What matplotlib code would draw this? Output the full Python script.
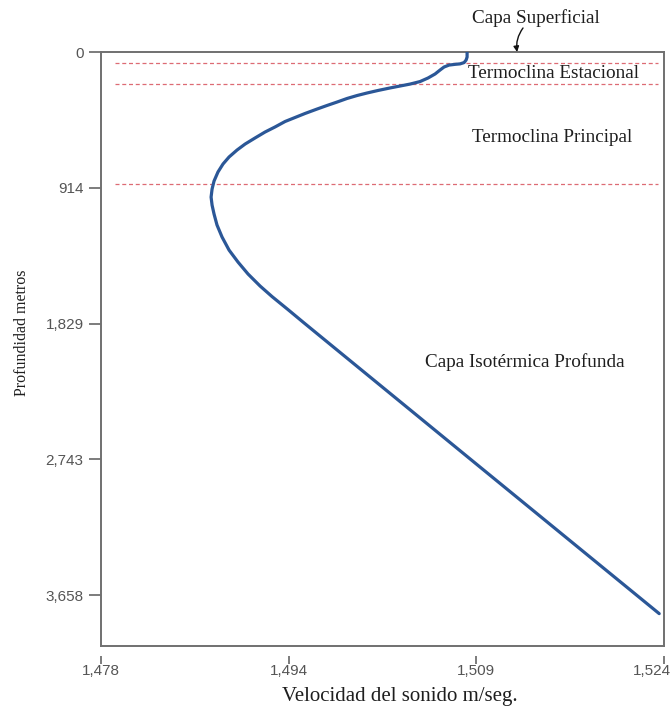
import matplotlib
matplotlib.use("Agg")
import matplotlib.pyplot as plt
import matplotlib.transforms as mtransforms

# ---- data ----
velocidad = [1508.01, 1508.01, 1507.93, 1507.77, 1507.44, 1507.04, 1506.55, 1506.14,
             1505.82, 1505.41, 1504.84, 1504.19, 1503.38, 1502.57, 1501.76, 1500.78,
             1499.89, 1499.08, 1498.26, 1497.45, 1496.64, 1495.83, 1494.85, 1494.04,
             1493.23, 1492.41, 1491.60, 1490.79, 1489.98, 1489.33, 1488.68, 1488.19,
             1487.78, 1487.46, 1487.30, 1487.22, 1487.30, 1487.46, 1487.70, 1488.11,
             1488.68, 1489.41, 1490.22, 1491.20, 1492.17, 1493.47, 1494.69, 1495.91,
             1508.50, 1523.61]
profundidad = [0, 34, 54, 71, 80, 83, 88, 101,
               121, 148, 175, 199, 216, 229, 242, 259,
               276, 293, 313, 337, 360, 384, 414, 441,
               468, 505, 539, 579, 620, 660, 707, 754,
               808, 869, 923, 977, 1031, 1091, 1165, 1246,
               1334, 1415, 1495, 1576, 1647, 1735, 1819, 1902,
               2757, 3782]

x_ticks = [1478.28, 1493.52, 1508.76, 1524.00]
x_tick_labels = ["1,478", "1,494", "1,509", "1,524"]
y_ticks = [0, 914.4, 1828.8, 2743.2, 3657.6]
y_tick_labels = ["0", "914", "1,829", "2,743", "3,658"]

capas_prof = [74, 215, 889]   # dashed layer limits (m)

capas_texto = ["Termoclina Estacional", "Termoclina Principal", "Capa Isotérmica Profunda"]
capas_texto_pos = [(1515.0, 145), (1514.9, 575), (1512.7, 2090)]

superficie_texto = "Capa Superficial"
superficie_vel = 1512.07

SERIF = "Liberation Serif"
SANS = "Liberation Sans"
TXT = "#1e1e1e"

fig = plt.figure(figsize=(6.72, 7.08), dpi=100)
ax = fig.add_axes([101/672, 1 - 646/708, 563/672, 594/708])

ax.plot(velocidad, profundidad, color="#2b5797", lw=2.3,
        solid_joinstyle="round", solid_capstyle="round", zorder=3)

for d in capas_prof:
    ax.axhline(d, xmin=0.025, xmax=0.989, color="#dd6b74", lw=0.9,
               dashes=(3.2, 2.2), zorder=2)

ax.set_xlim(x_ticks[0], x_ticks[-1])
ax.set_ylim(4000, 0)

ax.set_xticks(x_ticks)
ax.set_xticklabels(x_tick_labels)
ax.set_yticks(y_ticks)
ax.set_yticklabels(y_tick_labels)
ax.tick_params(axis="y", direction="out", length=8.5, width=1.2, color="#666666",
               labelcolor="#555555", labelsize=11, pad=4)
ax.tick_params(axis="x", length=0, labelcolor="#555555", labelsize=11, pad=13)
for lab in ax.get_xticklabels() + ax.get_yticklabels():
    lab.set_fontfamily(SANS)
last = ax.get_xticklabels()[-1]
last.set_transform(last.get_transform() +
                   mtransforms.ScaledTranslation(-12/100, 0, fig.dpi_scale_trans))

# detached x tick marks
ax.vlines(x_ticks, -0.0303, -0.0168, transform=ax.get_xaxis_transform(),
          colors="#666666", lw=1.2, clip_on=False)

for s in ax.spines.values():
    s.set_color("#707070")
    s.set_linewidth(1.4)

for txt, (xv, yv) in zip(capas_texto, capas_texto_pos):
    ax.text(xv, yv, txt, family=SERIF, fontsize=13.8, ha="center", va="center",
            color=TXT)

# Capa Superficial label with arrow
fig.text(536/672, 1 - 18/708, superficie_texto, family=SERIF, fontsize=13.8,
         ha="center", va="center", color=TXT)
ax.annotate("", xy=(superficie_vel, 0), xycoords="data",
            xytext=(523/672, 1 - 28/708), textcoords="figure fraction",
            arrowprops=dict(arrowstyle="-|>", color="#111111", lw=1.0,
                            mutation_scale=8, shrinkA=0, shrinkB=0,
                            connectionstyle="arc3,rad=0.2"),
            annotation_clip=False)

fig.text(22/672, 1 - 333/708, "Profundidad metros", family=SERIF, fontsize=11.5,
         rotation=90, ha="center", va="center", color=TXT)
fig.text(400/672, 1 - 697/708, "Velocidad del sonido m/seg.", family=SERIF,
         fontsize=15, ha="center", va="center", color=TXT)

fig.savefig("out.png", dpi=100, facecolor="white")
